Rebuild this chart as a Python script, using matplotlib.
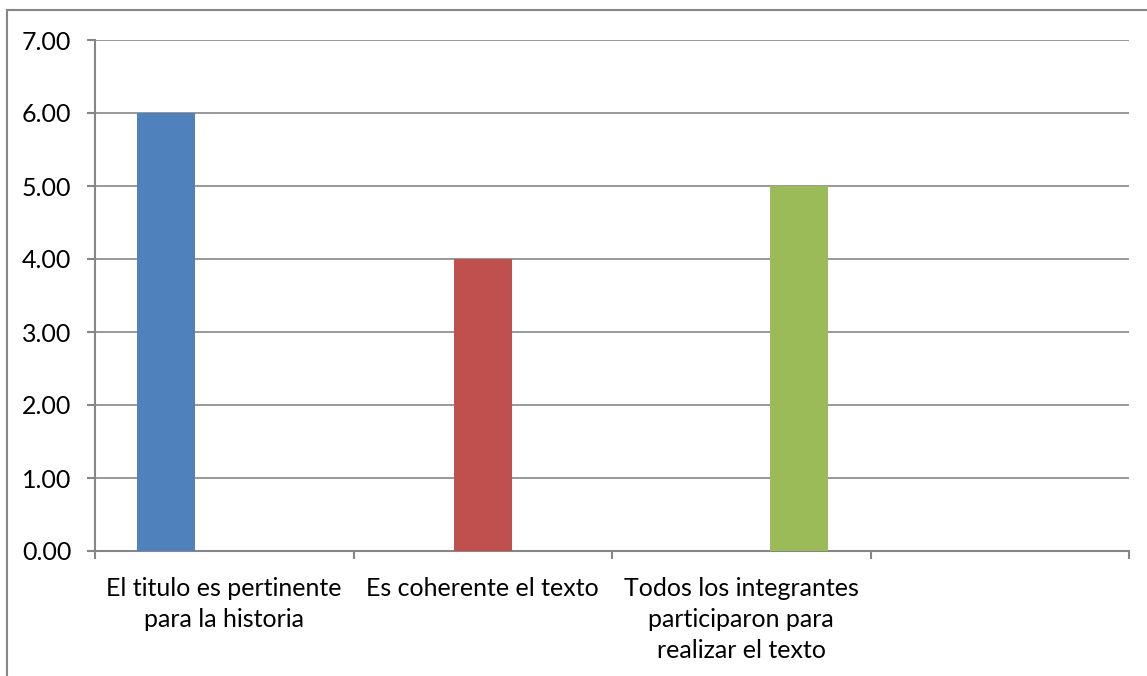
import matplotlib
matplotlib.use("Agg")
import matplotlib.pyplot as plt
from matplotlib.lines import Line2D
from matplotlib.ticker import FormatStrFormatter, FixedLocator, NullFormatter
import numpy as np

categories = ["El titulo es pertinente\npara la historia",
              "Es coherente el texto",
              "Todos los integrantes\nparticiparon para\nrealizar el texto",
              ""]
series_values = [6.0, 4.0, 5.0]
series_colors = ["#4F81BD", "#C0504D", "#9BBB59"]
yticks = [0, 1, 2, 3, 4, 5, 6, 7]

plt.rcParams['font.family'] = ['Lato', 'DejaVu Sans']
W, H = 1147, 676
fig = plt.figure(figsize=(W/100, H/100), dpi=100)
ax = fig.add_axes([95/W, 1-551/H, (1129-95)/W, (551-40)/H])

gray = "#868686"
bw = 0.224
for j, (v, c) in enumerate(zip(series_values, series_colors)):
    ax.bar(j + (j-1)*bw, v, width=bw, color=c, zorder=3)

ax.set_xlim(-0.5, len(categories)-0.5)
ax.set_ylim(0, 7)
ax.set_yticks(yticks)
ax.yaxis.set_major_formatter(FormatStrFormatter('%.2f'))
ax.grid(axis='y', color=gray, linewidth=1.2, zorder=0)
for s in ['top', 'right']:
    ax.spines[s].set_visible(False)
for s in ['left', 'bottom']:
    ax.spines[s].set_color(gray)
    ax.spines[s].set_linewidth(1.5)

# category boundary ticks and centered labels
ax.xaxis.set_major_locator(FixedLocator(np.arange(-0.5, len(categories), 1.0)))
ax.xaxis.set_major_formatter(NullFormatter())
ax.xaxis.set_minor_locator(FixedLocator(np.arange(len(categories))))
ax.set_xticklabels(categories, minor=True, fontsize=18, color="#000000", linespacing=1.42)
ax.tick_params(axis='x', which='major', length=6, color=gray, width=1.5, direction='out')
ax.tick_params(axis='x', which='minor', length=0, pad=19)
ax.tick_params(axis='y', length=6, color=gray, width=1.5, labelsize=18, pad=11)
for lbl in ax.get_xticklabels(minor=True):
    lbl.set_verticalalignment('top')

# outer chart border (left and top visible)
fig.add_artist(Line2D([7/W, 7/W], [0, 1-10/H], transform=fig.transFigure, color=gray, linewidth=1.5))
fig.add_artist(Line2D([7/W, 1], [1-10/H, 1-10/H], transform=fig.transFigure, color=gray, linewidth=1.5))

fig.savefig("out.png", dpi=100)
